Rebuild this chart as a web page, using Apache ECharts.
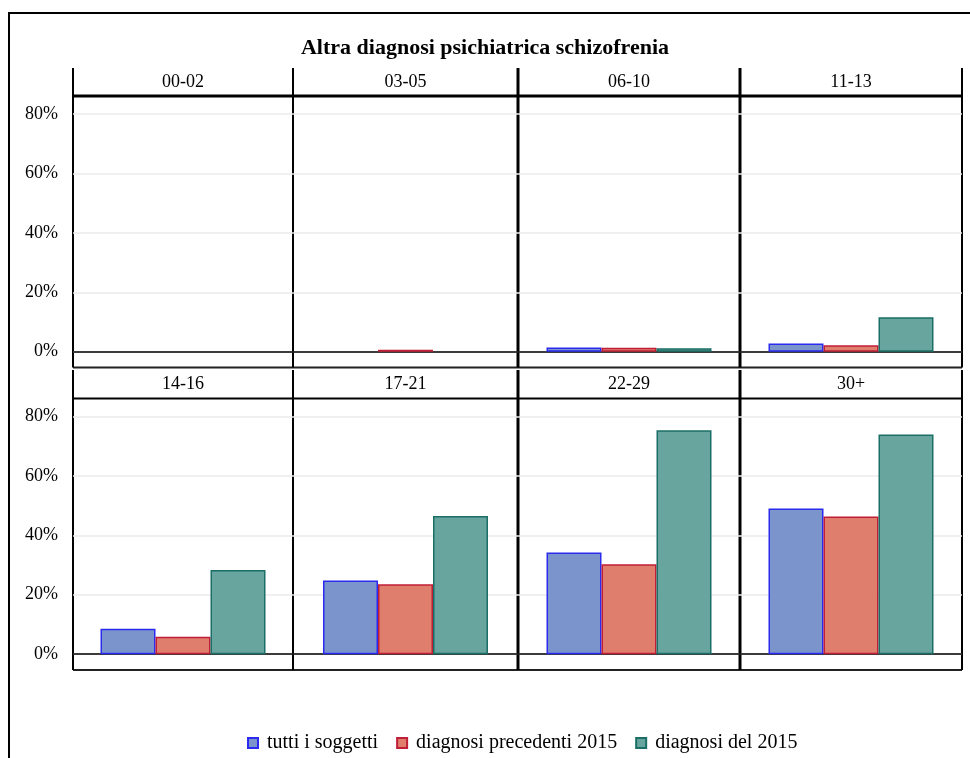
<!DOCTYPE html>
<html>
<head>
<meta charset="utf-8">
<script src="https://cdn.jsdelivr.net/npm/echarts@6/dist/echarts.min.js"></script>
<style>
  html, body { margin: 0; padding: 0; background: #fff; }
  #chart { width: 970px; height: 758px; }
</style>
</head>
<body>
<div id="chart"></div>
<script>
// Age groups (one panel each) and the three compared populations
const ageGroups = ['00-02', '03-05', '06-10', '11-13', '14-16', '17-21', '22-29', '30+'];
const seriesNames = ['tutti i soggetti', 'diagnosi precedenti 2015', 'diagnosi del 2015'];

// Share of subjects with another psychiatric diagnosis (fractions)
const tuttiSoggetti      = [0, 0,     0.014, 0.028, 0.086, 0.248, 0.342, 0.490];
const diagnosiPrecedenti = [0, 0.007, 0.013, 0.022, 0.059, 0.235, 0.303, 0.463];
const diagnosiDel2015    = [0, 0,     0.012, 0.116, 0.283, 0.465, 0.753, 0.739];

const yTicks = [0, 0.2, 0.4, 0.6, 0.8];

// ---- layout ----
const FONT = '"Liberation Serif", "DejaVu Serif", serif';
const colEdges = [73, 293, 518, 740, 962];
const edgeWidths = [2, 2, 3, 3, 2];
const rows = [
  { headerTop: 68,  plotTop: 96,    headerLine: 3 },
  { headerTop: 370, plotTop: 398.5, headerLine: 2 }
];
const plotHeight = 271.5;
const Y_MIN = -0.053, Y_MAX = 0.86;

const styles = [
  { color: '#7b94cc', borderColor: '#2a2af0' },
  { color: '#e07e6e', borderColor: '#c01e36' },
  { color: '#67a59e', borderColor: '#1b6f66' }
];
const valueSets = [tuttiSoggetti, diagnosiPrecedenti, diagnosiDel2015];

const grids = [], xAxes = [], yAxes = [], series = [], graphics = [];

ageGroups.forEach((g, i) => {
  const r = Math.floor(i / 4), c = i % 4;
  const left = colEdges[c], right = colEdges[c + 1];
  grids.push({ left: left, top: rows[r].plotTop, width: right - left, height: plotHeight, containLabel: false });
  xAxes.push({
    gridIndex: i, type: 'category', data: [g],
    axisLine: { show: true, onZero: true, lineStyle: { color: '#000', width: 1.5 } },
    axisTick: { show: false }, axisLabel: { show: false }, splitLine: { show: false }
  });
  yAxes.push({
    gridIndex: i, type: 'value', min: Y_MIN, max: Y_MAX,
    axisLine: { show: false },
    axisTick: { show: false, customValues: yTicks },
    axisLabel: {
      show: c === 0, customValues: yTicks, margin: 15,
      fontFamily: FONT, fontSize: 18, color: '#000',
      formatter: v => Math.round(v * 100) + '%'
    },
    splitLine: { show: true, lineStyle: { color: '#ebebeb', width: 1.5 } }
  });
  valueSets.forEach((vals, k) => {
    series.push({
      name: seriesNames[k], type: 'bar', xAxisIndex: i, yAxisIndex: i,
      data: [vals[i] === 0 ? '-' : vals[i]],
      barWidth: 55, barGap: '0%',
      itemStyle: { color: styles[k].color, borderColor: styles[k].borderColor, borderWidth: 1.5 },
      silent: true
    });
  });

  // panel header text
  graphics.push({
    type: 'text', x: (left + right) / 2, y: (rows[r].headerTop + rows[r].plotTop) / 2,
    style: { text: g, fontFamily: FONT, fontSize: 18, fill: '#000', align: 'center', verticalAlign: 'middle' }
  });
  // header bottom rule and panel bottom rule
  graphics.push({
    type: 'line', shape: { x1: left, y1: rows[r].plotTop, x2: right, y2: rows[r].plotTop },
    style: { stroke: '#000', lineWidth: rows[r].headerLine }
  });
  graphics.push({
    type: 'line', shape: { x1: left, y1: rows[r].plotTop + plotHeight, x2: right, y2: rows[r].plotTop + plotHeight },
    style: { stroke: '#222', lineWidth: 2 }
  });
});

// vertical panel separators
rows.forEach(row => {
  colEdges.forEach((x, e) => {
    graphics.push({
      type: 'line', shape: { x1: x, y1: row.headerTop, x2: x, y2: row.plotTop + plotHeight },
      style: { stroke: '#000', lineWidth: edgeWidths[e] }
    });
  });
});

// outer frame
graphics.push({
  type: 'polyline', shape: { points: [[9, 758], [9, 13], [975, 13]] },
  style: { stroke: '#000', lineWidth: 2, fill: null }
});

const chart = echarts.init(document.getElementById('chart'), null, { renderer: 'canvas' });
chart.setOption({
  backgroundColor: '#fff',
  animation: false,
  title: {
    text: 'Altra diagnosi psichiatrica schizofrenia',
    left: 'center', top: 32,
    textStyle: { fontFamily: FONT, fontSize: 22, fontWeight: 'bold', color: '#000' }
  },
  legend: {
    data: seriesNames, left: 242, top: 728,
    icon: 'rect', itemWidth: 10, itemHeight: 10, itemGap: 18,
    textStyle: { fontFamily: FONT, fontSize: 20, color: '#000', padding: [0, 0, 0, 4] }
  },
  grid: grids, xAxis: xAxes, yAxis: yAxes, series: series,
  graphic: graphics
});
</script>
</body>
</html>
